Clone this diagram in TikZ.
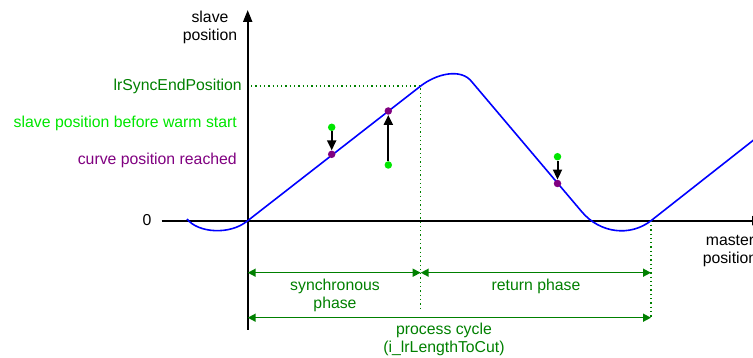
\documentclass[tikz,border=0pt]{standalone}
\usepackage{fontspec}
\setmainfont{Liberation Sans}
\usetikzlibrary{arrows.meta}

\definecolor{darkgreen}{RGB}{0,128,0}
\definecolor{brightgreen}{RGB}{0,230,0}
\definecolor{curvepurple}{RGB}{128,0,128}

\tikzset{
	lbl/.style={font=\fontsize{15.8}{18}\selectfont, inner sep=0pt, align=center},
	dot/.style={circle, fill=#1, inner sep=0pt, minimum size=7.5pt},
	axis/.style={line width=2pt, -{Triangle[length=12pt,width=9pt]}},
	camline/.style={blue, line width=1.6pt, line join=round},
	guide/.style={darkgreen, line width=1.3pt, dash pattern=on 1.3pt off 3pt},
	dim/.style={darkgreen, line width=1.5pt, {Triangle[length=8pt,width=8pt]}-{Triangle[length=8pt,width=8pt]}},
	push/.style={line width=2pt, -{Triangle[length=10pt,width=9pt]}},
}

\begin{document}
\begin{tikzpicture}[x=1pt, y=-1pt]
	\useasboundingbox (0,0) rectangle (753,358);
	
	% Key points
	\coordinate (O) at (247.7,220.7);
	\coordinate (syncend) at (420.7,86);
	\coordinate (cycleend) at (651,220.7);
	
	% Axes
	\coordinate (ybot) at (247.7,330);
	\coordinate (ytop) at (247.7,10);
	\coordinate (xleft) at (161.7,220.7);
	\coordinate (xright) at (764,220.7);
	\draw[axis] (ybot) -- (ytop);
	\draw[axis] (xleft) -- (xright);
	
	% Guide lines
	\draw[guide] (251,86) -- (syncend) -- (420.7,308);
	\draw[guide] (cycleend) -- (651,317);
	
	% Cam curve
	\draw[camline] (187,219) .. controls (198,233) and (230,235.4) .. (O)
		-- (syncend) .. controls (436,74) and (461,67.5) .. (472,82)
		-- (582,212) .. controls (600,233.2) and (630,237) .. (cycleend)
		-- (760,135);
	
	% Warm start points
	\node[dot=brightgreen] (g1) at (331.7,127.3) {};
	\node[dot=curvepurple] (p1) at (331.7,154.3) {};
	\node[dot=brightgreen] (g2) at (388.3,165) {};
	\node[dot=curvepurple] (p2) at (388.3,111) {};
	\node[dot=brightgreen] (g3) at (557.5,156.7) {};
	\node[dot=curvepurple] (p3) at (557.5,183.5) {};
	\draw[push] (g1) -- (p1);
	\draw[push] (g2) -- (p2);
	\draw[push] (g3) -- (p3);
	
	% Phase arrows
	\coordinate (s0) at (247.7,272.7);
	\coordinate (s1) at (420.7,272.7);
	\coordinate (s2) at (651,272.7);
	\coordinate (c0) at (247.7,317.7);
	\coordinate (c1) at (651,317.7);
	\draw[dim] (s0) -- (s1);
	\draw[dim] (s1) -- (s2);
	\draw[dim] (c0) -- (c1);
	
	% Labels
	\node[lbl] (yname) at (210,27) {slave\\position};
	\node[lbl] (xname) at (730,251) {master\\position};
	\node[lbl] (zero) at (147,220) {0};
	\node[lbl, anchor=east, darkgreen] (syncname) at (242,86) {lrSyncEndPosition};
	\node[lbl, anchor=east, brightgreen] (warmname) at (237,123) {slave position before warm start};
	\node[lbl, anchor=east, curvepurple] (reachname) at (237,160) {curve position reached};
	\node[lbl, darkgreen] (syncphase) at (335,295.5) {synchronous\\phase};
	\node[lbl, darkgreen] (retphase) at (536,286) {return phase};
	\node[lbl, darkgreen] (cycle) at (444,339.5) {process cycle\\(i\_lrLengthToCut)};
	
\end{tikzpicture}
\end{document}
